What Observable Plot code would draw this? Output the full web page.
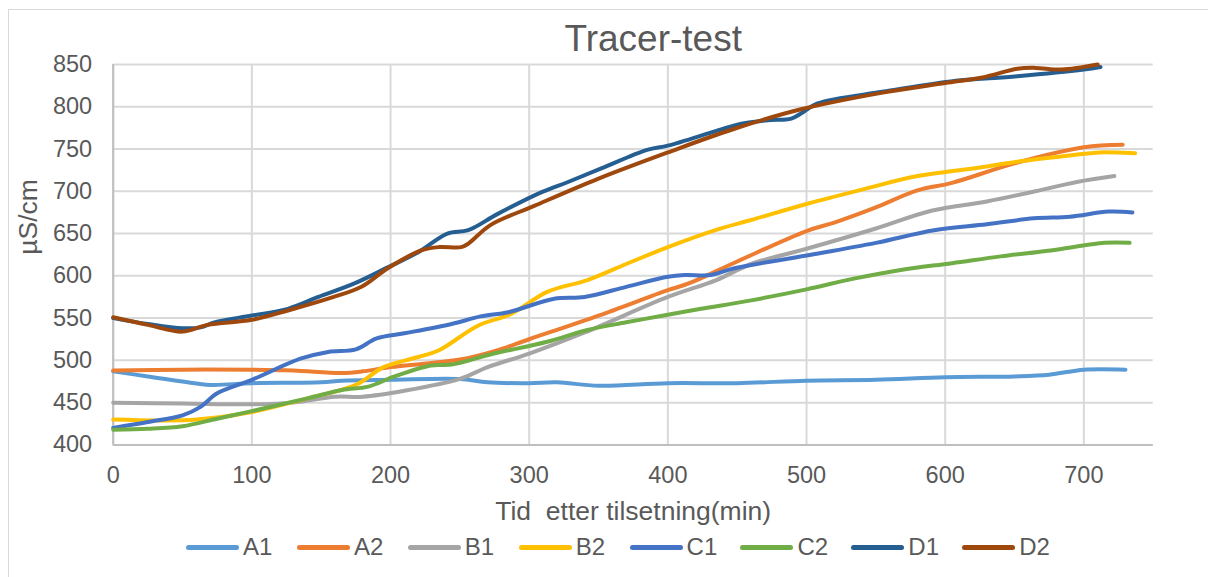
<!DOCTYPE html>
<html>
<head>
<meta charset="utf-8">
<script src="https://cdn.jsdelivr.net/npm/d3@7"></script>
<script src="https://cdn.jsdelivr.net/npm/@observablehq/plot@0.6"></script>
<style>
  html, body { margin: 0; padding: 0; background: #fff; overflow: hidden; }
  #wrap { position: relative; width: 1208px; height: 577px; overflow: hidden; font-family: 'Liberation Sans', Arial, sans-serif; }
  #border { position: absolute; left: 8px; top: 9px; width: 1260px; height: 620px; border: 1px solid #d9d9d9; box-sizing: border-box; }
  #chart { position: absolute; left: 0; top: 0; }
  #legend { position: absolute; left: 186px; top: 533px; height: 28px; display: flex; }
  .item { width: 110.9px; display: flex; align-items: center; height: 28px; }
  .sw { width: 53px; height: 5px; border-radius: 2.5px; margin-right: 4px; }
  .lab { font-size: 24px; color: #595959; line-height: 28px; }
</style>
</head>
<body>
<div id="wrap">
  <div id="border"></div>
  <div id="chart"></div>
  <div id="legend"></div>
</div>
<script>
const title = "Tracer-test";
const xLabel = "Tid  etter tilsetning(min)";
const yLabel = "µS/cm";
const series = ["A1", "A2", "B1", "B2", "C1", "C2", "D1", "D2"];
const colors = ["#5b9bd5", "#ed7d31", "#a5a5a5", "#ffc000", "#4472c4", "#70ad47", "#255e91", "#9e480e"];
const xTicks = [0, 100, 200, 300, 400, 500, 600, 700];
const yTicks = [400, 450, 500, 550, 600, 650, 700, 750, 800, 850];

// [time (min), conductivity (µS/cm)]
const A1 = [[0,487],[25,481],[50,475],[70,471],[100,473],[150,474],[165,476],[200,477],[250,478],[270,474],[300,473],[320,474],[350,470],[400,473],[450,473],[500,476],[550,477],[600,480],[650,481],[675,483],[700,489],[730,489]];
const A2 = [[0,488],[50,489],[100,489],[130,488],[165,485],[180,487],[200,492],[250,501],[275,511],[300,525],[350,553],[400,583],[415,591],[450,617],[500,653],[520,663],[550,681],[580,701],[605,710],[650,733],[700,752],[728,755]];
const B1 = [[0,450],[50,449],[100,448],[130,450],[160,457],[180,457],[210,464],[250,478],[270,492],[300,508],[340,533],[400,575],[435,595],[460,614],[500,632],[550,656],[590,677],[630,688],[665,700],[695,711],[722,718]];
const B2 = [[0,430],[30,429],[60,430],[100,439],[140,455],[175,471],[195,492],[220,504],[235,512],[263,541],[287,555],[313,581],[342,595],[370,614],[400,634],[436,655],[460,666],[500,685],[540,702],[580,718],[620,727],[652,735],[688,742],[712,746],[737,745]];
const C1 = [[0,420],[25,427],[50,435],[63,445],[75,461],[100,477],[135,502],[155,510],[175,513],[190,526],[210,532],[244,543],[265,552],[285,557],[318,573],[340,575],[370,587],[400,599],[412,601],[431,601],[448,609],[500,624],[550,639],[592,654],[630,661],[664,668],[690,670],[718,676],[735,675]];
const C2 = [[0,418],[25,419],[50,422],[75,431],[100,440],[140,455],[165,465],[184,469],[203,481],[229,494],[244,495],[272,507],[313,522],[342,536],[370,545],[400,554],[424,561],[460,571],[500,584],[535,597],[568,607],[605,615],[640,623],[676,630],[715,639],[733,639]];
const D1 = [[0,550],[25,543],[50,538],[63,539],[73,545],[100,553],[126,561],[148,575],[174,591],[198,610],[220,628],[241,650],[256,654],[277,673],[309,699],[328,711],[352,727],[385,749],[400,754],[436,772],[453,780],[472,784],[489,786],[496,792],[508,804],[556,818],[604,830],[652,836],[700,844],[712,847]];
const D2 = [[0,551],[25,542],[50,534],[68,542],[100,548],[126,559],[159,575],[179,587],[198,609],[222,630],[235,634],[251,634],[256,638],[272,660],[304,683],[350,715],[400,746],[448,774],[496,797],[556,817],[600,828],[628,835],[652,845],[665,846],[684,844],[710,850]];

const seriesData = [A1, A2, B1, B2, C1, C2, D1, D2];
const data = seriesData.flatMap((pts, i) => pts.map(([t, v]) => ({s: series[i], t, v})));

const chart = Plot.plot({
  width: 1208,
  height: 577,
  marginLeft: 112.7,
  marginRight: 55.3,
  marginTop: 64,
  marginBottom: 132.6,
  x: {domain: [0, 750]},
  y: {domain: [400, 850]},
  color: {domain: series, range: colors},
  style: {fontFamily: "'Liberation Sans', Arial, sans-serif", color: "#595959", background: "transparent", overflow: "visible"},
  marks: [
    Plot.gridY(yTicks, {stroke: "#d9d9d9", strokeOpacity: 1, strokeWidth: 2}),
    Plot.gridX(xTicks, {stroke: "#d9d9d9", strokeOpacity: 1, strokeWidth: 2}),
    Plot.ruleX([0], {stroke: "#bfbfbf", strokeWidth: 2}),
    Plot.ruleY([400], {stroke: "#bfbfbf", strokeWidth: 2}),
    Plot.axisX(xTicks, {tickSize: 0, tickPadding: 21, fontSize: 23.5, label: null}),
    Plot.axisY(yTicks, {tickSize: 0, tickPadding: 21, fontSize: 23.5, label: null}),
    Plot.line(data, {x: "t", y: "v", z: "s", stroke: "s", strokeWidth: 4, curve: "catmull-rom", strokeLinecap: "round", strokeLinejoin: "round"}),
    Plot.text([xLabel], {text: d => d, frameAnchor: "bottom", lineAnchor: "middle", dy: 67, fontSize: 26.5, fill: "#595959"}),
    Plot.text([yLabel], {text: d => d, frameAnchor: "left", lineAnchor: "middle", rotate: -90, dx: -85, fontSize: 26.5, fill: "#595959"}),
    Plot.text([title], {text: d => d, frameAnchor: "top", lineAnchor: "middle", dx: 20, dy: -25.5, fontSize: 37, fill: "#595959"})
  ]
});
document.getElementById("chart").appendChild(chart);

const legend = document.getElementById("legend");
series.forEach((name, i) => {
  const item = document.createElement("div");
  item.className = "item";
  const sw = document.createElement("div");
  sw.className = "sw";
  sw.style.background = colors[i];
  const lab = document.createElement("span");
  lab.className = "lab";
  lab.textContent = name;
  item.appendChild(sw);
  item.appendChild(lab);
  legend.appendChild(item);
});
</script>
</body>
</html>
